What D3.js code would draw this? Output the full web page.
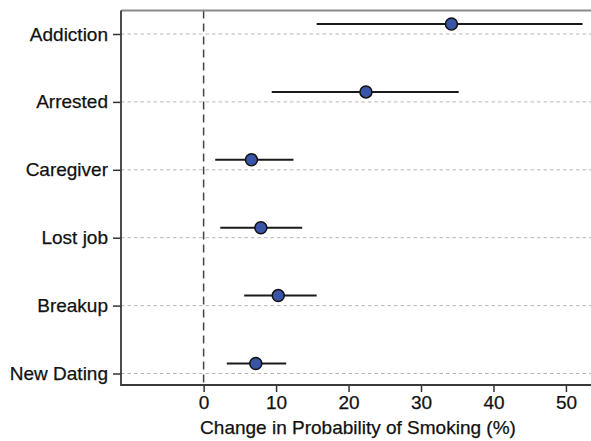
<!DOCTYPE html>
<html>
<head>
<meta charset="utf-8">
<script src="https://cdn.jsdelivr.net/npm/d3@7"></script>
<style>
  body { margin: 0; background: #fff; }
  svg { display: block; font-family: "Liberation Sans", Arial, sans-serif; }
</style>
</head>
<body>
<svg id="chart" width="591" height="441"></svg>
<script>
// data
let categories = ['Addiction', 'Arrested', 'Caregiver', 'Lost job', 'Breakup', 'New Dating'];
let estimates = [34.2, 22.4, 6.6, 7.9, 10.3, 7.2];
let lower = [15.6, 9.4, 1.6, 2.3, 5.6, 3.2];
let upper = [52.3, 35.2, 12.4, 13.6, 15.6, 11.4];
let xTicks = [0, 10, 20, 30, 40, 50];
let xTitle = 'Change in Probability of Smoking (%)';

let rows = categories.map(function (c, i) {
  return { name: c, est: estimates[i], lo: lower[i], hi: upper[i] };
});

let LEFT = 121, RIGHT = 600, TOP = 10.5, BOTTOM = 385;
let svg = d3.select('#chart');

let xScale = d3.scaleLinear().domain([-11.4, 54.7]).range([LEFT, RIGHT]);
let yScale = d3.scalePoint().domain(categories).range([34, 373.5]);

// grid lines
svg.append('g')
  .selectAll('line')
  .data(categories)
  .enter().append('line')
    .attr('x1', LEFT).attr('x2', RIGHT)
    .attr('y1', d => yScale(d)).attr('y2', d => yScale(d))
    .attr('stroke', '#b8b8b8')
    .attr('stroke-width', 1)
    .attr('stroke-dasharray', '3.5,3');

// zero reference line
svg.append('line')
  .attr('x1', xScale(0)).attr('x2', xScale(0))
  .attr('y1', TOP).attr('y2', BOTTOM)
  .attr('stroke', '#444')
  .attr('stroke-width', 1.5)
  .attr('stroke-dasharray', '8,5');

// axes
let bottomAxis = d3.axisBottom(xScale).tickValues(xTicks).tickSize(7).tickPadding(4).tickSizeOuter(0);
let gx = svg.append('g')
  .attr('transform', 'translate(0,' + BOTTOM + ')')
  .call(bottomAxis);

let leftAxis = d3.axisLeft(yScale).tickSize(8).tickPadding(5).tickSizeOuter(0);
let gy = svg.append('g')
  .attr('transform', 'translate(' + LEFT + ',0)')
  .call(leftAxis);

svg.selectAll('.domain').remove();
svg.selectAll('.tick line').attr('stroke', '#333').attr('stroke-width', 1.5);
svg.selectAll('.tick text')
  .attr('font-size', 19)
  .attr('font-family', null)
  .attr('fill', '#111')
  .attr('stroke', '#111')
  .attr('stroke-width', 0.25);

// frame: top lighter, left and bottom darker
svg.append('line')
  .attr('x1', LEFT).attr('x2', RIGHT)
  .attr('y1', TOP).attr('y2', TOP)
  .attr('stroke', '#8a8a8a')
  .attr('stroke-width', 2);
svg.append('path')
  .attr('d', 'M' + LEFT + ',' + TOP + 'V' + BOTTOM + 'H' + RIGHT)
  .attr('fill', 'none')
  .attr('stroke', '#3a3a3a')
  .attr('stroke-width', 1.8);

// intervals and points
let OFFSET = 10;
let marks = svg.append('g');
marks.selectAll('line')
  .data(rows)
  .enter().append('line')
    .attr('x1', d => xScale(d.lo)).attr('x2', d => xScale(d.hi))
    .attr('y1', d => yScale(d.name) - OFFSET).attr('y2', d => yScale(d.name) - OFFSET)
    .attr('stroke', '#1a1a1a')
    .attr('stroke-width', 2);

marks.selectAll('circle')
  .data(rows)
  .enter().append('circle')
    .attr('cx', d => xScale(d.est))
    .attr('cy', d => yScale(d.name) - OFFSET)
    .attr('r', 6)
    .attr('fill', '#3a55a8')
    .attr('stroke', '#111')
    .attr('stroke-width', 1.5);

// x title
svg.append('text')
  .attr('x', 358)
  .attr('y', 434)
  .attr('text-anchor', 'middle')
  .attr('font-size', 19)
  .attr('fill', '#111')
  .attr('stroke', '#111')
  .attr('stroke-width', 0.25)
  .text(xTitle);
</script>
</body>
</html>
